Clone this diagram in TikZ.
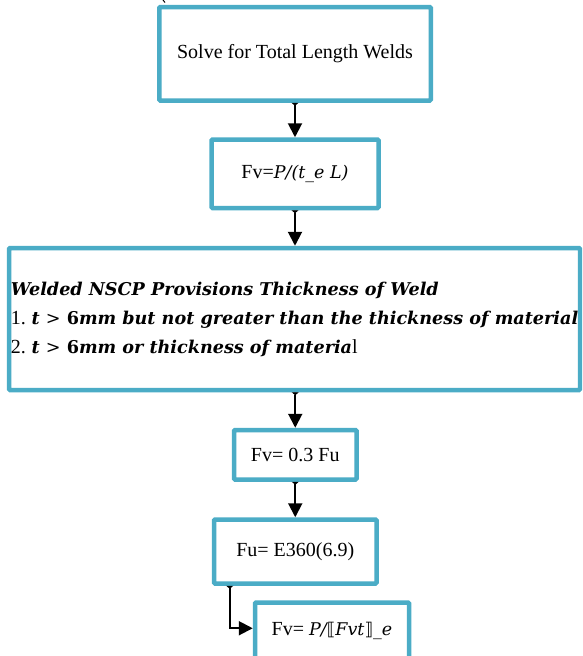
\documentclass[tikz,border=0pt]{standalone}
\usepackage{fontspec}
\setmainfont{Liberation Serif}
\newfontfamily\cam{DejaVu Serif}
\newfontfamily\djs{DejaVu Sans}
\usetikzlibrary{arrows.meta}
\definecolor{boxblue}{RGB}{75,172,198}
\begin{document}
\begin{tikzpicture}[x=1pt,y=-1pt,
  fbox/.style={draw=boxblue, line width=4.5pt, rounded corners=1pt, fill=white,
    inner sep=0pt, font=\fontsize{20}{24}\selectfont},
  arr/.style={line width=2pt,
    {Triangle[reversed,width=7pt,length=3pt]}-{Triangle[width=14pt,length=14pt]}}]
\clip (0,0) rectangle (582,656);
\path[use as bounding box] (0,0) rectangle (582,656);
\draw[line width=1pt] (163,0) -- (165,2.5);
\node[fbox, minimum width=271.5pt, minimum height=93.5pt] (b1) at (295,53.75)
  {Solve for Total Length Welds};
\node[fbox, minimum width=167pt, minimum height=68.5pt] (b2) at (295,173.75)
  {Fv={\cam\fontsize{17.5}{20}\selectfont\itshape P/(t\_e L)}};
\node[fbox, minimum width=571pt, minimum height=142pt,
  align=left, inner xsep=1.5pt, font=\fontsize{17.6}{29}\selectfont] (b3) at (294.5,319)
  {{\cam\bfseries\itshape Welded NSCP Provisions Thickness of Weld}\\
   {\fontsize{20}{29}\selectfont 1.} {\cam\bfseries\itshape t {\mdseries\upshape >} {\upshape 6}mm but not greater than the thickness of material}\\
   {\fontsize{20}{29}\selectfont 2.} {\cam\bfseries\itshape t {\mdseries\upshape >} {\upshape 6}mm or thickness of materia}{\fontsize{20}{29}\selectfont l}};
\node[fbox, minimum width=122.5pt, minimum height=49.5pt] (b4) at (295.25,454.75)
  {Fv= 0.3 Fu};
\node[fbox, minimum width=162.5pt, minimum height=64pt] (b5) at (295.25,551.5)
  {Fu= E360(6.9)};
\node[fbox, minimum width=154pt, minimum height=57.5pt] (b6) at (332,631.25)
  {Fv= {\cam\fontsize{17.5}{20}\selectfont\itshape P/{\djs\upshape ⟦}Fvt{\djs\upshape ⟧}\_e}};
\draw[arr] (b1.south) -- (b2.north);
\draw[arr] (b2.south) -- (b3.north -| b2.south);
\draw[arr] (b3.south -| b4.north) -- (b4.north);
\draw[arr] (b4.south) -- (b5.north);
\draw[arr] ([xshift=18pt]b5.south west) |- ([yshift=3pt]b6.west);
\end{tikzpicture}
\end{document}
